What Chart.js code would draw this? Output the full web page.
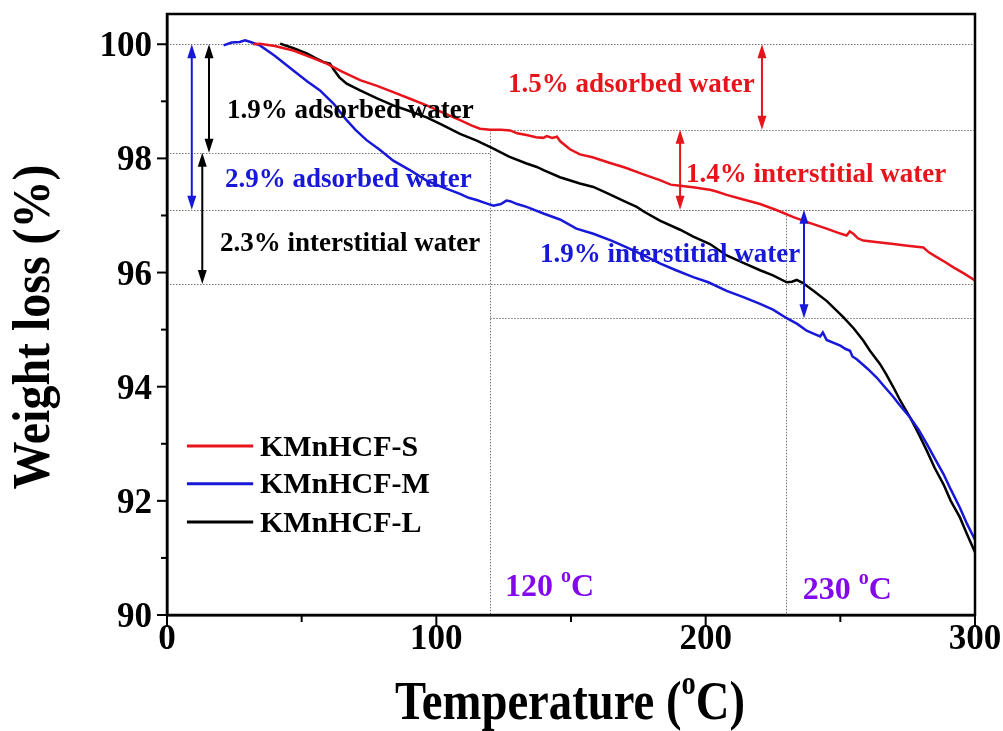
<!DOCTYPE html>
<html>
<head>
<meta charset="utf-8">
<script src="https://cdn.jsdelivr.net/npm/chart.js@4.4.1/dist/chart.umd.min.js"></script>
<style>
  html, body { margin: 0; padding: 0; background: #fff; }
  #wrap { width: 1003px; height: 731px; }
</style>
</head>
<body>
<div id="wrap"><canvas id="tga" width="1003" height="731"></canvas></div>
<script>
// ---- TGA curves: temperature (°C) and remaining weight (%) ----
const tempS = [32, 34.5, 40, 46.9, 53, 59.3, 65, 71.7, 78, 84, 90, 96.4, 102, 108.8, 113, 116.2, 120, 124, 127.4, 130, 133.5, 137, 139.7, 141, 143, 144.8, 146, 149.6, 153.3, 158, 164.5, 170, 176.9, 183, 187, 190.5, 196, 199, 201.6, 204, 207.8, 214, 220.2, 226, 232.6, 238, 244.9, 249, 252.3, 253.5, 254.8, 256.5, 258.5, 264, 269.7, 275, 280.8, 283, 285.8, 289, 292, 296, 300];
const lossS = [100.0, 100.01, 99.97, 99.89, 99.78, 99.66, 99.52, 99.37, 99.27, 99.16, 99.05, 98.93, 98.81, 98.67, 98.58, 98.52, 98.5, 98.5, 98.49, 98.44, 98.41, 98.37, 98.36, 98.39, 98.36, 98.38, 98.3, 98.16, 98.07, 98.02, 97.92, 97.84, 97.72, 97.62, 97.54, 97.52, 97.49, 97.47, 97.45, 97.42, 97.36, 97.28, 97.2, 97.1, 96.97, 96.88, 96.77, 96.7, 96.65, 96.72, 96.68, 96.6, 96.56, 96.53, 96.5, 96.47, 96.44, 96.35, 96.27, 96.18, 96.09, 95.98, 95.86];

const tempM = [21, 24, 27, 29, 31, 34.5, 40, 46.9, 52, 56.8, 62, 66.7, 70, 74.1, 79, 84, 90, 96.4, 102, 108.8, 112, 115, 118, 121.2, 124, 126, 127.4, 130, 133.5, 140, 145.9, 152, 158.3, 165, 170.7, 177, 183, 189, 195.4, 201, 207.8, 214, 220.2, 225, 230.1, 234, 237.5, 240, 242.5, 243.5, 244.9, 250, 252, 253.6, 254.5, 256.1, 260, 263.5, 266, 269.7, 272, 275.9, 279, 282.1, 285, 288.3, 291, 294.4, 297, 300];
const lossM = [99.98, 100.03, 100.04, 100.07, 100.04, 99.98, 99.8, 99.54, 99.35, 99.19, 98.95, 98.67, 98.5, 98.32, 98.15, 97.96, 97.8, 97.61, 97.5, 97.38, 97.31, 97.27, 97.22, 97.17, 97.2, 97.26, 97.25, 97.2, 97.15, 97.03, 96.93, 96.77, 96.68, 96.56, 96.44, 96.3, 96.16, 96.04, 95.92, 95.83, 95.68, 95.57, 95.45, 95.35, 95.2, 95.1, 94.98, 94.93, 94.88, 94.95, 94.82, 94.72, 94.66, 94.63, 94.53, 94.48, 94.32, 94.16, 94.02, 93.82, 93.68, 93.46, 93.25, 93.0, 92.75, 92.47, 92.2, 91.88, 91.6, 91.32];

const tempL = [42, 47, 51.9, 55, 58, 60.5, 62, 64, 66.7, 71.7, 78, 84, 90, 96.4, 102, 108.8, 115, 121.2, 127, 133.5, 137.3, 140, 145.9, 153.3, 158.3, 164, 170.7, 174.4, 177, 183, 190.5, 195.4, 201.6, 207.8, 214, 220.2, 225, 230.1, 232, 233.8, 236, 240, 245, 251.1, 255, 258.5, 261, 264.7, 267, 269.7, 272, 275.9, 279, 282.1, 285, 288.3, 291, 294.4, 297, 300];
const lossL = [100.01, 99.93, 99.84, 99.76, 99.69, 99.66, 99.55, 99.42, 99.31, 99.19, 99.05, 98.93, 98.83, 98.72, 98.59, 98.43, 98.31, 98.17, 98.03, 97.91, 97.85, 97.79, 97.67, 97.56, 97.5, 97.38, 97.23, 97.15, 97.07, 96.91, 96.75, 96.63, 96.5, 96.3, 96.17, 96.04, 95.95, 95.83, 95.84, 95.87, 95.82, 95.68, 95.5, 95.22, 95.02, 94.81, 94.63, 94.4, 94.22, 93.99, 93.78, 93.46, 93.18, 92.88, 92.58, 92.29, 92.0, 91.71, 91.42, 91.1];

const seriesNames = ['KMnHCF-S', 'KMnHCF-M', 'KMnHCF-L'];

// ---- water-loss steps (%) per sample: [adsorbed, interstitial] ----
const stepS = [1.5, 1.4];
const stepM = [2.9, 1.9];
const stepL = [1.9, 2.3];

// ---- temperatures marking the end of each loss step (°C) ----
const markTemps = [120, 230];

// ---- axis ticks ----
const xTicks = [0, 50, 100, 150, 200, 250, 300];
const yTicks = [90, 91, 92, 93, 94, 95, 96, 97, 98, 99, 100];

const FONT = '"Liberation Serif", "Times New Roman", serif';
const RED = '#e8141b';
const BLUE = '#1818d8';
const BLACK = '#000000';
const PURPLE = '#8308ee';

const toPts = (xs, ys) => xs.map((t, i) => ({ x: t, y: ys[i] }));

// step levels derived from the loss percentages
const lvlS1 = +(100 - stepS[0]).toFixed(2), lvlS2 = +(lvlS1 - stepS[1]).toFixed(2);
const lvlM1 = +(100 - stepM[0]).toFixed(2), lvlM2 = +(lvlM1 - stepM[1]).toFixed(2);
const lvlL1 = +(100 - stepL[0]).toFixed(2), lvlL2 = +(lvlL1 - stepL[1]).toFixed(2);

// dotted guide lines: [y, xFrom, xTo]
const hGuides = [
  [100, 0, 300],
  [lvlL1, 0, markTemps[0]],
  [lvlS1, markTemps[0], 300],
  [lvlM1, 0, 300],
  [lvlS2, 190.5, 300],
  [lvlL2, 0, 300],
  [lvlM2, markTemps[0], 300]
];
// vertical guides: [x, yTop]
const vGuides = [[markTemps[0], lvlS1], [markTemps[1], lvlS2]];

// double-headed arrows: [x, yTop, yBottom, colour]
const arrows = [
  [9.2, 100, lvlM1, BLUE],
  [15.6, 100, lvlL1, BLACK],
  [13.1, lvlL1, lvlL2, BLACK],
  [220.9, 100, lvlS1, RED],
  [190.5, lvlS1, lvlS2, RED],
  [236.5, lvlM1, lvlM2, BLUE]
];

// annotation texts: [runs, x (°C, left edge), y (%), colour, size]
const labels = [
  [[{ t: stepL[0] + '% adsorbed water' }], 22.3, 98.86, BLACK, 27],
  [[{ t: stepM[0] + '% adsorbed water' }], 21.5, 97.65, BLUE, 27],
  [[{ t: stepL[1] + '% interstitial water' }], 19.7, 96.53, BLACK, 27],
  [[{ t: stepS[0] + '% adsorbed water' }], 126.6, 99.32, RED, 27],
  [[{ t: stepS[1] + '% interstitial water' }], 192.7, 97.75, RED, 27],
  [[{ t: stepM[1] + '% interstitial water' }], 138.5, 96.35, BLUE, 27],
  [[{ t: markTemps[0] + ' ' }, { t: 'o', sup: true }, { t: 'C' }], 125.5, 90.51, PURPLE, 32],
  [[{ t: markTemps[1] + ' ' }, { t: 'o', sup: true }, { t: 'C' }], 236, 90.46, PURPLE, 32]
];

// legend rows (% on the y scale)
const legendRows = [92.96, 92.3, 91.63];

function runFont(size, sup) {
  return 'bold ' + (sup ? Math.round(size * 0.62) : size) + 'px ' + FONT;
}
function runsWidth(ctx, runs, size) {
  let w = 0;
  runs.forEach(r => { ctx.font = runFont(size, r.sup); w += ctx.measureText(r.t).width; });
  return w;
}
// draws text runs (with optional superscript) from the local origin, vertically centred on the digits
function drawRuns(ctx, runs, size, color) {
  let x = 0;
  const dy = Math.round(size * 0.07);
  ctx.fillStyle = color;
  ctx.textBaseline = 'middle';
  ctx.textAlign = 'left';
  runs.forEach(r => {
    ctx.font = runFont(size, r.sup);
    ctx.fillText(r.t, x, dy + (r.sup ? -size * 0.36 : 0));
    x += ctx.measureText(r.t).width;
  });
}
// horizontally condensed text centred at (cx, cy), fitted to a given length
function drawFitted(ctx, runs, size, color, cx, cy, length, angle) {
  const w = runsWidth(ctx, runs, size);
  const k = length / w;
  ctx.save();
  ctx.translate(cx, cy);
  ctx.rotate(angle || 0);
  ctx.scale(k, 1);
  ctx.translate(-w / 2, 0);
  drawRuns(ctx, runs, size, color);
  ctx.restore();
}

function drawArrow(ctx, x, y1, y2, color) {
  const hl = 14, hw = 4.5;
  ctx.save();
  ctx.strokeStyle = color;
  ctx.fillStyle = color;
  ctx.lineWidth = 2;
  ctx.beginPath();
  ctx.moveTo(x, y1 + hl - 1);
  ctx.lineTo(x, y2 - hl + 1);
  ctx.stroke();
  ctx.beginPath();
  ctx.moveTo(x, y1); ctx.lineTo(x - hw, y1 + hl); ctx.lineTo(x + hw, y1 + hl); ctx.closePath();
  ctx.fill();
  ctx.beginPath();
  ctx.moveTo(x, y2); ctx.lineTo(x - hw, y2 - hl); ctx.lineTo(x + hw, y2 - hl); ctx.closePath();
  ctx.fill();
  ctx.restore();
}

const decor = {
  id: 'decor',
  beforeDatasetsDraw(chart) {
    const { ctx, scales: { x, y } } = chart;
    ctx.save();
    ctx.strokeStyle = '#777777';
    ctx.lineWidth = 1;
    ctx.setLineDash([1.5, 1.5]);
    hGuides.forEach(([v, a, b]) => {
      const py = Math.round(y.getPixelForValue(v)) + 0.5;
      ctx.beginPath();
      ctx.moveTo(x.getPixelForValue(a), py);
      ctx.lineTo(x.getPixelForValue(b), py);
      ctx.stroke();
    });
    vGuides.forEach(([t, top]) => {
      const px = Math.round(x.getPixelForValue(t)) + 0.5;
      ctx.beginPath();
      ctx.moveTo(px, y.getPixelForValue(top));
      ctx.lineTo(px, y.getPixelForValue(90));
      ctx.stroke();
    });
    ctx.restore();
  },
  afterDatasetsDraw(chart) {
    const { ctx, chartArea: ca, scales: { x, y } } = chart;

    arrows.forEach(([t, a, b, c]) => drawArrow(ctx, x.getPixelForValue(t), y.getPixelForValue(a), y.getPixelForValue(b), c));

    labels.forEach(([runs, t, v, c, size]) => {
      ctx.save();
      ctx.translate(x.getPixelForValue(t), y.getPixelForValue(v));
      drawRuns(ctx, runs, size, c);
      ctx.restore();
    });

    // legend
    const lx0 = x.getPixelForValue(7.4), lx1 = x.getPixelForValue(32), tx = x.getPixelForValue(34.5);
    chart.data.datasets.forEach((ds, i) => {
      const py = y.getPixelForValue(legendRows[i]);
      ctx.save();
      ctx.strokeStyle = ds.borderColor;
      ctx.lineWidth = 3;
      ctx.beginPath();
      ctx.moveTo(lx0, py); ctx.lineTo(lx1, py);
      ctx.stroke();
      ctx.translate(tx, py);
      drawRuns(ctx, [{ t: ds.label }], 30, BLACK);
      ctx.restore();
    });

    // frame
    ctx.save();
    ctx.strokeStyle = '#000';
    ctx.lineWidth = 2.5;
    ctx.strokeRect(ca.left, ca.top, ca.right - ca.left, ca.bottom - ca.top);

    // tick marks (major where a label is shown)
    ctx.lineWidth = 2;
    yTicks.forEach(v => {
      const py = y.getPixelForValue(v);
      const len = v % 2 === 0 ? 10 : 6;
      ctx.beginPath();
      ctx.moveTo(ca.left, py); ctx.lineTo(ca.left - len, py);
      ctx.stroke();
    });
    xTicks.forEach(v => {
      const px = x.getPixelForValue(v);
      const len = v % 100 === 0 ? 12 : 7;
      ctx.beginPath();
      ctx.moveTo(px, ca.bottom); ctx.lineTo(px, ca.bottom + len);
      ctx.stroke();
    });
    ctx.restore();

    // axis titles
    drawFitted(ctx, [{ t: 'Temperature (' }, { t: 'o', sup: true }, { t: 'C)' }], 54, BLACK,
      570, 701, 350, 0);
    drawFitted(ctx, [{ t: 'Weight loss (%)' }], 52, BLACK, 32, 327, 325, -Math.PI / 2);
  }
};

// fixed axis box sizes so the plot area keeps its place
function fixBox(size) {
  return s => {
    if (s.isHorizontal()) { s.height = size; } else { s.width = size; }
    s.paddingTop = 0; s.paddingBottom = 0; s.paddingLeft = 0; s.paddingRight = 0;
  };
}

new Chart(document.getElementById('tga'), {
  type: 'line',
  data: {
    datasets: [
      { label: seriesNames[0], data: toPts(tempS, lossS), borderColor: RED },
      { label: seriesNames[1], data: toPts(tempM, lossM), borderColor: BLUE },
      { label: seriesNames[2], data: toPts(tempL, lossL), borderColor: BLACK }
    ].map(d => Object.assign(d, { borderWidth: 2.5, pointRadius: 0, tension: 0, fill: false }))
  },
  options: {
    responsive: false,
    devicePixelRatio: 1,
    animation: false,
    events: [],
    layout: { padding: { left: 0, top: 14, right: 28, bottom: 0 } },
    plugins: { legend: { display: false }, tooltip: { enabled: false }, title: { display: false } },
    scales: {
      x: {
        type: 'linear', min: 0, max: 300,
        afterBuildTicks: s => { s.ticks = xTicks.map(v => ({ value: v })); },
        afterFit: fixBox(116),
        grid: { display: false, drawTicks: false },
        border: { display: true, color: '#000', width: 2.5 },
        ticks: {
          autoSkip: false, maxRotation: 0, padding: 4, color: '#000',
          font: { family: FONT, size: 35, weight: 'bold' },
          callback: v => (v % 100 === 0 ? String(v) : '')
        }
      },
      y: {
        type: 'linear', min: 90, max: 100.53,
        afterBuildTicks: s => { s.ticks = yTicks.map(v => ({ value: v })); },
        afterFit: fixBox(167),
        grid: { display: false, drawTicks: false },
        border: { display: true, color: '#000', width: 2.5 },
        ticks: {
          autoSkip: false, padding: 15, labelOffset: 3, color: '#000',
          font: { family: FONT, size: 35, weight: 'bold' },
          callback: v => (v % 2 === 0 ? String(v) : '')
        }
      }
    }
  },
  plugins: [decor]
});
</script>
</body>
</html>
